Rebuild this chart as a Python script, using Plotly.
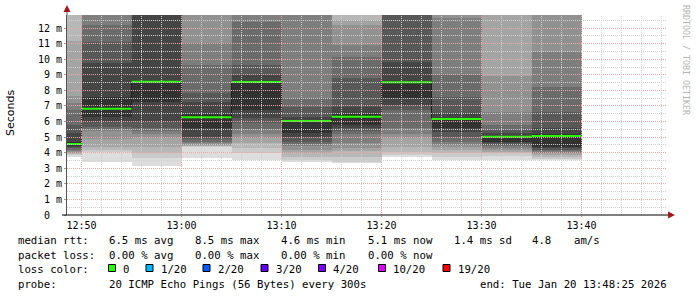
import math
import pandas as pd
import plotly.graph_objects as go

DAY = "2026-01-20 "
# ---------------- data ----------------
bar_end = ["12:50", "12:55", "13:00", "13:05", "13:10", "13:15",
           "13:20", "13:25", "13:30", "13:35", "13:40"]
median_ms = [4.56, 6.82, 8.55, 6.27, 8.54, 6.03, 6.31, 8.52, 6.16, 5.03, 5.07]

# 20 sorted ping times (ms) per 5-minute step (values above ~12.8 ms are off-scale)
ping_1250 = [3.74, 3.85, 3.90, 3.95, 4.00, 4.10, 4.20, 4.30, 4.38, 4.45, 4.70, 5.24, 5.78, 6.74, 7.17, 7.64, 11.2, 13.5, 13.8, 14.0]
ping_1255 = [3.42, 4.02, 4.20, 4.38, 4.90, 5.39, 5.50, 5.67, 5.95, 6.31, 7.60, 9.74, 11.1, 12.2, 13.5, 13.6, 13.7, 13.8, 13.9, 14.0]
ping_1300 = [3.16, 3.64, 4.00, 4.38, 4.92, 5.20, 5.40, 5.56, 5.99, 7.27, 8.62, 13.5, 13.6, 13.7, 13.75, 13.8, 13.85, 13.9, 13.95, 14.0]
ping_1305 = [3.68, 4.38, 4.40, 4.45, 4.50, 4.60, 4.70, 4.85, 5.03, 5.56, 6.50, 7.27, 7.81, 9.63, 11.02, 13.5, 13.6, 13.7, 13.8, 14.0]
ping_1310 = [3.53, 3.96, 4.30, 4.60, 4.92, 5.20, 5.50, 5.90, 6.20, 6.74, 8.60, 8.98, 9.63, 12.41, 13.5, 13.6, 13.7, 13.8, 13.9, 14.0]
ping_1315 = [3.40, 3.53, 3.75, 3.96, 4.17, 4.40, 4.55, 4.70, 5.03, 5.24, 6.10, 6.31, 6.95, 7.49, 13.5, 13.6, 13.7, 13.8, 13.9, 14.0]
ping_1320 = [3.32, 3.42, 3.74, 4.10, 4.28, 4.60, 5.20, 5.40, 5.56, 5.77, 6.50, 6.95, 8.77, 10.16, 10.91, 12.2, 12.52, 13.5, 13.8, 14.0]
ping_1325 = [3.75, 3.86, 4.07, 4.38, 4.92, 5.20, 5.56, 6.74, 7.06, 7.49, 8.60, 9.84, 13.5, 13.55, 13.6, 13.7, 13.8, 13.85, 13.9, 14.0]
ping_1330 = [3.50, 3.74, 3.96, 4.20, 4.38, 4.50, 4.70, 5.03, 5.30, 5.56, 6.25, 6.52, 7.60, 8.98, 12.63, 13.5, 13.6, 13.7, 13.8, 14.0]
ping_1335 = [3.53, 3.80, 3.96, 4.05, 4.15, 4.30, 4.40, 4.50, 4.60, 4.70, 5.10, 5.24, 5.46, 5.78, 6.63, 8.90, 13.5, 13.6, 13.8, 14.0]
ping_1340 = [3.50, 3.60, 3.75, 3.85, 3.96, 4.00, 4.10, 4.20, 4.30, 4.38, 5.20, 5.60, 6.63, 8.23, 10.48, 13.5, 13.6, 13.7, 13.8, 14.0]
pings = [ping_1250, ping_1255, ping_1300, ping_1305, ping_1310, ping_1315,
         ping_1320, ping_1325, ping_1330, ping_1335, ping_1340]

y_tickvals = list(range(0, 13))
y_ticktext = ["0\u00a0\u00a0"] + [f"{v} m" for v in range(1, 13)]

rtt_stat_values = [6.5, 8.5, 4.6, 5.1, 1.4]
rtt_stat_names = ["avg", "max", "min", "now", "sd"]
rtt_am_s = 4.8
loss_stat_values = [0.00, 0.00, 0.00, 0.00]
loss_stat_names = ["avg", "max", "min", "now"]
loss_labels = ["0", "1/20", "2/20", "3/20", "4/20", "10/20", "19/20"]
loss_colors = ["#26ff00", "#00b8ff", "#0059ff", "#5e00ff", "#7e00ff", "#dd00ff", "#ff0000"]
probe_text = "20 ICMP Echo Pings (56 Bytes) every 300s"
end_text = "end: Tue Jan 20 13:48:25 2026"

# ---------------- geometry ----------------
FW, FH = 697, 297
L, T, W, H = 67, 15, 600, 200
Y_MAX = 12.84
x_start = pd.Timestamp(DAY + "12:48:33")
x_end = x_start + pd.Timedelta(minutes=60)

def px(x):
    return (x - L) / W

def py(y):
    return (T + H - y) / H

MONO = "DejaVu Sans Mono"
NB = "\u00a0"

ends = pd.to_datetime([DAY + t for t in bar_end])
starts = ends - pd.Timedelta(minutes=5)
centers = ends - pd.Timedelta(seconds=150)

fig = go.Figure()

# smoke: band i spans ping_i .. ping_(21-i), darker toward the middle
half = 10
for i in range(1, half + 1):
    lo = [p[i - 1] for p in pings]
    hi = [p[20 - i] for p in pings]
    c = int(190 / half * (half - i)) + 50
    fig.add_trace(go.Bar(
        x=centers, y=[h - l for h, l in zip(hi, lo)], base=lo,
        width=300000, marker=dict(color=f"rgb({c},{c},{c})", line=dict(width=0)),
        showlegend=False, hoverinfo="skip"))

# median: thin dark step connectors + green segments (0 loss)
fig.add_trace(go.Scatter(
    x=list(starts) + [ends[-1]], y=median_ms + [median_ms[-1]],
    mode="lines", line=dict(color="#202020", width=1, shape="hv"),
    showlegend=False, hoverinfo="skip"))
gx, gy = [], []
for s, e, m in zip(starts, ends, median_ms):
    gx += [s, e, None]
    gy += [m, m, None]
fig.add_trace(go.Scatter(
    x=gx, y=gy, mode="lines", line=dict(color=loss_colors[0], width=2),
    showlegend=False, hoverinfo="skip"))

shapes = []
# grid drawn above the smoke (as rrdtool does)
t = pd.Timestamp(DAY + "12:50")
while t <= x_end:
    major = (t.minute % 10 == 0)
    shapes.append(dict(type="line", xref="x", yref="paper", x0=t, x1=t, y0=0, y1=1,
                       layer="above",
                       line=dict(color="#e8a8a8" if major else "#cfcfcf", width=1, dash="1px,1px")))
    t += pd.Timedelta(minutes=2)
k = 1
while k * 0.5 < Y_MAX:
    v = k * 0.5
    ypix = math.floor(T + H - v * H / Y_MAX) + 0.5
    major = (k % 2 == 0)
    shapes.append(dict(type="line", xref="paper", yref="paper", x0=0, x1=1,
                       y0=py(ypix), y1=py(ypix), layer="above",
                       line=dict(color="#e8a8a8" if major else "#cfcfcf", width=1, dash="1px,1px")))
    k += 1

# axis extensions and arrows
shapes.append(dict(type="line", xref="paper", yref="paper", x0=0, x1=0, y0=1, y1=py(11),
                   line=dict(color="#555555", width=1)))
shapes.append(dict(type="path", xref="paper", yref="paper",
                   path=f"M {px(63.5)} {py(12)} L {px(70.5)} {py(12)} L {px(67)} {py(5)} Z",
                   fillcolor="#a01818", line=dict(width=0)))
shapes.append(dict(type="line", xref="paper", yref="paper", x0=px(62), x1=px(670), y0=0, y1=0,
                   line=dict(color="#000000", width=1)))
shapes.append(dict(type="path", xref="paper", yref="paper",
                   path=f"M {px(668)} {py(211.5)} L {px(668)} {py(218.5)} L {px(675)} {py(215)} Z",
                   fillcolor="#a01818", line=dict(width=0)))

annotations = []

def text(x, y, s, size=10.7, color="#000000", family=MONO, angle=0, xanchor="left"):
    annotations.append(dict(x=px(x), y=py(y), xref="paper", yref="paper", text=s.replace(" ", NB),
                            showarrow=False, xanchor=xanchor, yanchor="middle", textangle=angle,
                            font=dict(family=family, size=size, color=color)))

# legend block
text(16, 241, "median rtt:")
rtt_x = [107, 193, 279, 366, 452]
for x, v, n in zip(rtt_x, rtt_stat_values, rtt_stat_names):
    text(x, 241, f"{v:.1f} ms {n}")
text(530, 241, f"{rtt_am_s:.1f}")
text(572, 241, "am/s")

text(16, 255, "packet loss:")
loss_x = [107, 193, 279, 366]
for x, v, n in zip(loss_x, loss_stat_values, loss_stat_names):
    text(x, 255, f"{v:.2f} % {n}")

text(16, 269.5, "loss color:")
box_x = [108.5, 146, 203, 261, 318.5, 378.5, 443]
for x, lab, col in zip(box_x, loss_labels, loss_colors):
    shapes.append(dict(type="rect", xref="paper", yref="paper",
                       x0=px(x), x1=px(x + 7), y0=py(264.5), y1=py(271.5),
                       fillcolor=col, line=dict(color="#000000", width=1)))
    text(x + 12.5, 269.5, lab)

text(16, 284, "probe:")
text(107, 284, probe_text)
text(478, 284, end_text)

# y-axis title and watermark
text(10, 113, "Seconds", size=11, family="DejaVu Sans", angle=-90, xanchor="center")
text(686, 60, "RRDTOOL / TOBI OETIKER", size=8.3, color="#b4b4b4", angle=90, xanchor="center")

fig.update_layout(
    width=FW, height=FH,
    margin=dict(l=L, r=FW - L - W, t=T, b=FH - T - H, pad=0),
    paper_bgcolor="#ffffff", plot_bgcolor="#ffffff",
    barmode="overlay", bargap=0, showlegend=False,
    shapes=shapes, annotations=annotations,
    xaxis=dict(type="date", range=[x_start, x_end], showgrid=False, zeroline=False,
               tick0=DAY + "12:50", dtick=600000, tickformat="%H:%M",
               ticks="outside", ticklen=1, tickcolor="#999999",
               tickfont=dict(family=MONO, size=10, color="#000000"),
               showline=False, fixedrange=True),
    yaxis=dict(range=[0, Y_MAX], showgrid=False, zeroline=False,
               tickmode="array", tickvals=y_tickvals, ticktext=y_ticktext,
               ticks="outside", ticklen=2, tickcolor="#999999",
               tickfont=dict(family=MONO, size=10, color="#000000"),
               showline=True, linecolor="#555555", linewidth=1, fixedrange=True),
)

fig.write_html("out.html")
